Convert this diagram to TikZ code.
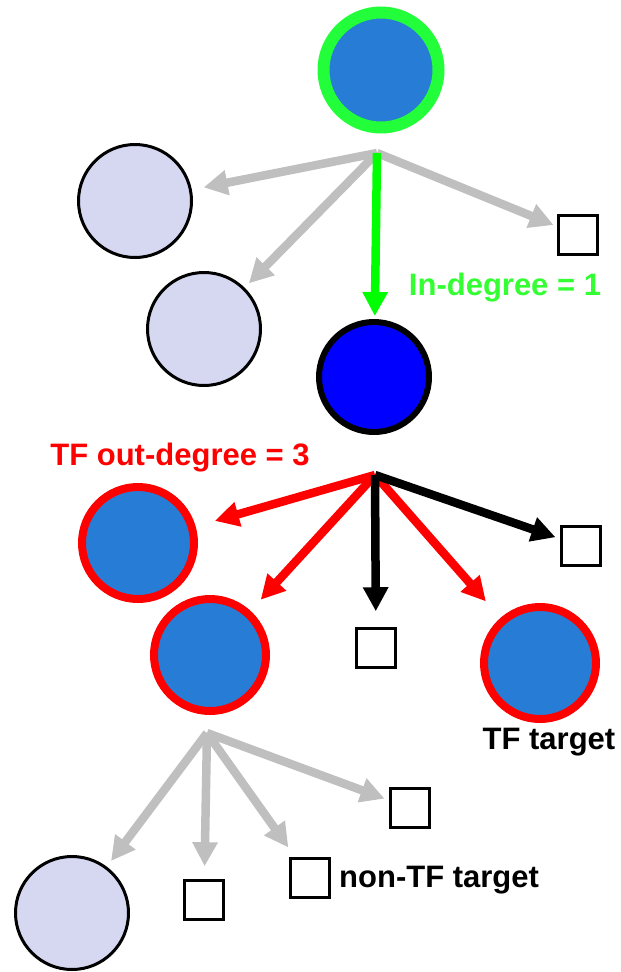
\documentclass[tikz,border=0pt]{standalone}
\usepackage{fontspec}
\setmainfont{Liberation Sans}
\usetikzlibrary{arrows.meta}
\definecolor{midblue}{RGB}{39,125,213}
\definecolor{lavender}{RGB}{214,216,242}
\definecolor{ringgreen}{RGB}{34,255,58}
\definecolor{textgreen}{RGB}{51,255,51}
\definecolor{edgegray}{RGB}{191,191,191}

\begin{document}
\begin{tikzpicture}[
            x=1pt, y=-1pt,
            every node/.style = {inner sep=0pt},
            tfnode/.style = {circle, draw=red, line width=8pt, fill=midblue, minimum size=112pt},
            othernode/.style = {circle, draw=black, line width=3pt, fill=lavender, minimum size=113pt},
            gene/.style = {rectangle, draw=black, line width=2.5pt, fill=white, minimum size=39pt},
            label/.style = {font=\bfseries\fontsize{31}{36}\selectfont},
            edge/.style = {line width=8.5pt, -{Triangle[length=24pt, width=24pt]}}
        ]
        \useasboundingbox (0,0) rectangle (621,972);

        % upstream regulator
        \node[circle, draw=ringgreen, line width=12pt, fill=midblue, minimum size=115pt] (regulator) at (381,70) {};
        \coordinate (hubA) at (377,153);
        \node[othernode] (otherA) at (135,201) {};
        \node[othernode] (otherB) at (204,329) {};
        \node[gene] (geneA) at (578,235) {};

        % the TF in focus
        \node[circle, draw=black, line width=6pt, fill=blue, minimum size=110pt] (tf) at (374,377) {};
        \node[label, text=textgreen] (indeg) at (505,288) {In-degree = 1};
        \node[label, text=red] (outdeg) at (180,458) {TF out-degree = 3};
        \coordinate (hubB) at (375,475);

        % targets of the TF
        \node[tfnode] (targetA) at (138,543) {};
        \node[tfnode] (targetB) at (210,655) {};
        \node[tfnode] (targetC) at (540,663) {};
        \node[gene] (geneB) at (376,648) {};
        \node[gene] (geneC) at (581,546) {};
        \node[label] (tftarget) at (549,742) {TF target};
        \coordinate (hubC) at (207,733);

        % targets of targetB
        \node[othernode] (otherC) at (72,913) {};
        \node[gene] (geneD) at (204,900) {};
        \node[gene] (geneE) at (310,878) {};
        \node[gene] (geneF) at (410,808) {};
        \node[label, anchor=west] (nontf) at (339,880) {non-TF target};

        \draw[edge, edgegray, shorten >=12pt] (hubA) -- (otherA);
        \draw[edge, edgegray, shorten >=6pt] (hubA) -- (otherB);
        \draw[edge, edgegray, shorten >=4pt] (hubA) -- (geneA);
        \draw[edge, green, shorten >=3pt] (hubA) -- (tf);

        \draw[edge, red, shorten >=20pt] (hubB) -- (targetA);
        \draw[edge, red, shorten >=15pt] (hubB) -- (targetB);
        \draw[edge, red, shorten >=22pt] (hubB) -- (targetC);
        \draw[edge, black, shorten >=16pt] (hubB) -- (geneB);
        \draw[edge, black, shorten >=5pt] (hubB) -- (geneC);

        \draw[edge, edgegray, shorten >=7pt] (hubC) -- (otherC);
        \draw[edge, edgegray, shorten >=13pt] (hubC) -- (geneD);
        \draw[edge, edgegray, shorten >=12pt] (hubC) -- (geneE);
        \draw[edge, edgegray, shorten >=5pt] (hubC) -- (geneF);
    \end{tikzpicture}
\end{document}
